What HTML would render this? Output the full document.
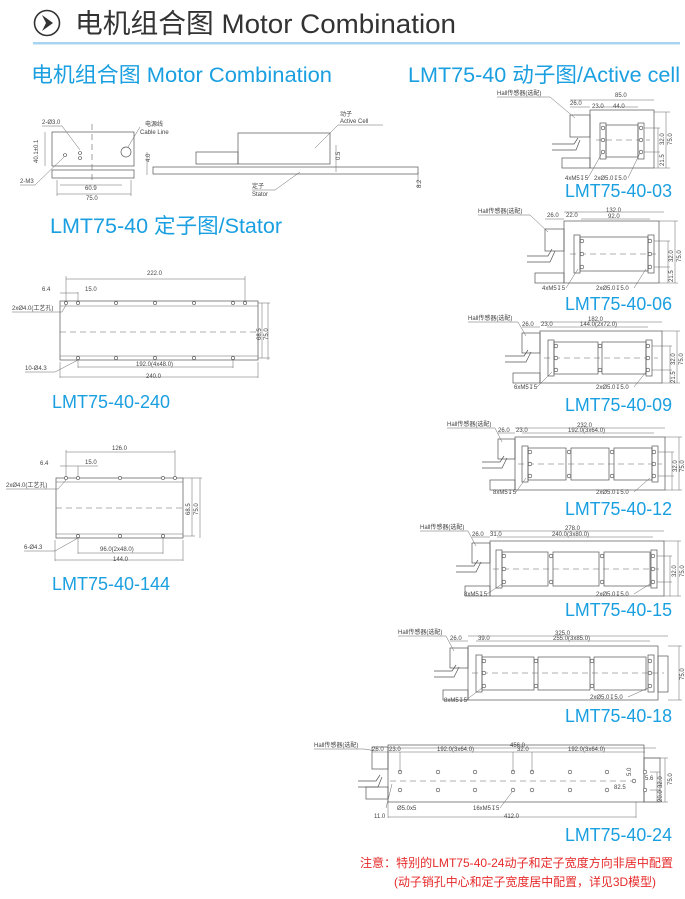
<!DOCTYPE html>
<html><head><meta charset="utf-8"><style>
html,body{margin:0;padding:0;background:#fff;width:685px;height:899px;overflow:hidden}
svg{display:block}
.t{font-family:"Liberation Sans","Noto Sans CJK SC",sans-serif}
.b{fill:#1a9fe0;font-family:"Liberation Sans","Noto Sans CJK SC",sans-serif}
.d{font-family:"Liberation Sans","Noto Sans CJK SC",sans-serif;font-size:6px;fill:#444}
.l{stroke:#555;stroke-width:.7;fill:none}
.f{stroke:#666;stroke-width:.5;fill:none}
.c{stroke:#666;stroke-width:.6;stroke-dasharray:6 4;fill:none}
.h{stroke:#444;stroke-width:.6;fill:#fff}
</style></head><body>
<svg width="685" height="899" viewBox="0 0 685 899" xmlns="http://www.w3.org/2000/svg">
<circle cx="47" cy="23" r="12.5" fill="none" stroke="#333" stroke-width="1.6"/>
<path d="M42 15 L53 23 L42 31 L46 23 Z" fill="#333"/>
<text x="75" y="33" class="t" font-size="27" fill="#333" textLength="381" lengthAdjust="spacingAndGlyphs">电机组合图 Motor Combination</text>
<rect x="33" y="42" width="647" height="2.5" fill="#a9d4f1"/>

<text x="31" y="82" class="b" font-size="21" textLength="301" lengthAdjust="spacingAndGlyphs">电机组合图 Motor Combination</text>
<text x="408" y="82" class="b" font-size="21" textLength="272" lengthAdjust="spacingAndGlyphs">LMT75-40 动子图/Active cell</text>
<text x="50" y="233" class="b" font-size="21" textLength="232" lengthAdjust="spacingAndGlyphs">LMT75-40 定子图/Stator</text>
<text x="52" y="408" class="b" font-size="18" textLength="118" lengthAdjust="spacingAndGlyphs">LMT75-40-240</text>
<text x="52" y="590" class="b" font-size="18" textLength="118" lengthAdjust="spacingAndGlyphs">LMT75-40-144</text>

<rect x="52" y="132" width="82" height="34" class="l"/>
<rect x="52" y="170" width="82" height="8" class="l"/>
<path class="c" d="M92 124 V180"/>
<circle cx="80" cy="153" r="1.5" class="h"/><circle cx="80" cy="158" r="1.5" class="h"/><circle cx="65" cy="155" r="1.5" class="h"/>
<circle cx="126" cy="152" r="5" class="l"/>
<path class="f" d="M45 132 V166 M57 180 V196 M131 180 V196 M57 194 H131 M60 185 H122"/>
<text x="38" y="163" class="d" transform="rotate(-90 38 163)">40.1±0.1</text>
<text x="42" y="124" class="d">2-Ø3.0</text><path class="f" d="M42 126 H62 L80 150"/>
<text x="20" y="183" class="d">2-M3</text><path class="f" d="M20 185 H35 L64 157"/>
<text x="145" y="126" class="d">电源线</text><text x="140" y="134" class="d">Cable Line</text>
<path class="f" d="M140 127 L128 147"/>
<text x="85" y="190" class="d">60.9</text><text x="86" y="200" class="d">75.0</text>
<rect x="196" y="152" width="42" height="12" class="l"/>
<rect x="238" y="133" width="92" height="31" class="l"/>
<rect x="153" y="167" width="265" height="7" class="l"/>
<path class="f" d="M147 152 V175 M336 145 V172 M418 172 V188"/>
<text x="150" y="162" class="d" transform="rotate(-90 150 162)">4.0</text>
<text x="340" y="160" class="d" transform="rotate(-90 340 160)">0.5</text>
<text x="421" y="188" class="d" transform="rotate(-90 421 188)">8.2</text>
<text x="340" y="116" class="d">动子</text><text x="340" y="123" class="d">Active Cell</text>
<path class="f" d="M338 125 H383 M338 125 L315 148"/>
<text x="252" y="188" class="d">定子</text><text x="252" y="196" class="d">Stator</text>
<path class="f" d="M252 190 H275 L300 172"/>

<rect x="60" y="301" width="198" height="59" class="l"/>
<path class="f" d="M60 306 H258 M60 356 H258"/>
<path class="c" d="M60 332 H258"/>
<g class="h"><circle cx="66" cy="303" r="1.6"/><circle cx="78" cy="303" r="1.6"/><circle cx="116" cy="303" r="1.6"/><circle cx="155" cy="303" r="1.6"/><circle cx="194" cy="303" r="1.6"/><circle cx="233" cy="303" r="1.6"/><circle cx="245" cy="303" r="1.6"/>
<circle cx="78" cy="358" r="1.6"/><circle cx="116" cy="358" r="1.6"/><circle cx="155" cy="358" r="1.6"/><circle cx="194" cy="358" r="1.6"/><circle cx="233" cy="358" r="1.6"/></g>
<path class="f" d="M66 279 H245 M66 276 V301 M245 276 V301 M60 293 H78 M78 292 V301 M78 367 H233 M78 360 V368 M233 360 V368 M60 377 H258 M60 362 V378 M258 362 V378 M258 303 H270 M258 358 H270 M262 303 V358 M268 303 V360"/>
<text x="147" y="275" class="d">222.0</text><text x="85" y="291" class="d">15.0</text><text x="42" y="291" class="d">6.4</text>
<text x="12" y="310" class="d">2xØ4.0(工艺孔)</text><path class="f" d="M12 312 H62 L66 305"/>
<text x="25" y="370" class="d">10-Ø4.3</text><path class="f" d="M25 372 H55 L78 360"/>
<text x="136" y="366" class="d">192.0(4x48.0)</text><text x="146" y="378" class="d">240.0</text>
<text x="261" y="340" class="d" transform="rotate(-90 261 340)">68.5</text>
<text x="268" y="340" class="d" transform="rotate(-90 268 340)">75.0</text>

<rect x="56" y="478" width="127" height="60" class="l"/>
<path class="f" d="M56 482 H183 M56 534 H183"/>
<path class="c" d="M56 508 H183"/>
<g class="h"><circle cx="66" cy="478" r="1.6"/><circle cx="78" cy="478" r="1.6"/><circle cx="120" cy="478" r="1.6"/><circle cx="163" cy="478" r="1.6"/><circle cx="175" cy="478" r="1.6"/>
<circle cx="78" cy="536" r="1.6"/><circle cx="120" cy="536" r="1.6"/><circle cx="163" cy="536" r="1.6"/></g>
<path class="f" d="M66 452 H175 M66 450 V476 M175 450 V476 M60 466 H98 M78 466 V476 M78 553 H163 M78 538 V554 M163 538 V554 M55 560 H183 M55 540 V561 M183 540 V561 M183 478 H202 M183 536 H195 M192 478 V536 M200 478 V538"/>
<text x="112" y="450" class="d">126.0</text><text x="85" y="464" class="d">15.0</text><text x="40" y="465" class="d">6.4</text>
<text x="6" y="487" class="d">2xØ4.0(工艺孔)</text><path class="f" d="M6 489 H58 L66 480"/>
<text x="24" y="549" class="d">6-Ø4.3</text><path class="f" d="M24 551 H55 L78 538"/>
<text x="100" y="551" class="d">96.0(2x48.0)</text><text x="113" y="561" class="d">144.0</text>
<text x="190" y="515" class="d" transform="rotate(-90 190 515)">68.5</text>
<text x="198" y="515" class="d" transform="rotate(-90 198 515)">75.0</text>

<g>
<rect x="590" y="110" width="64" height="58" class="l"/>
<rect x="570" y="115" width="20" height="22" class="l"/>
<path class="l" d="M552 144 H574 L578 138 M552 150 H576 L580 140"/>
<rect x="562" y="158" width="28" height="10" class="l"/>
<rect x="600" y="123" width="6" height="36" class="l"/><rect x="638" y="123" width="6" height="36" class="l"/>
<rect x="606" y="125" width="32" height="32" class="l"/>
<path class="c" d="M596 140 H650"/>
<g class="h"><circle cx="603" cy="128" r="1.8"/><circle cx="603" cy="140" r="1.8"/><circle cx="603" cy="152" r="1.8"/><circle cx="641" cy="128" r="1.8"/><circle cx="641" cy="140" r="1.8"/><circle cx="641" cy="152" r="1.8"/></g>
<path class="f" d="M570 100 H654 M570 107 H590 M598 107 H638 M654 112 H670 M654 168 H670 M666 112 V168 M644 128 H660 M644 152 H660 M658 128 V168"/>
<text x="615" y="97" class="d">85.0</text><text x="570" y="105" class="d">26.0</text><text x="592" y="108" class="d">23.0</text><text x="613" y="108" class="d">44.0</text>
<text x="497" y="95" class="d">Hall传感器(选配)</text><path class="f" d="M497 97 H550 L575 118"/>
<text x="565" y="180" class="d">4xM5↧5</text><text x="594" y="180" class="d">2xØ5.0↧5.0</text>
<path class="f" d="M588 178 L602 153 M628 178 L640 153"/>
<text x="664" y="145" class="d" transform="rotate(-90 664 145)">32.0</text><text x="672" y="145" class="d" transform="rotate(-90 672 145)">75.0</text><text x="664" y="166" class="d" transform="rotate(-90 664 166)">21.5</text>
<text x="565" y="197" class="b" font-size="18" textLength="107" lengthAdjust="spacingAndGlyphs">LMT75-40-03</text>
</g>

<g>
<rect x="564" y="221" width="95" height="62" class="l"/>
<rect x="545" y="229" width="19" height="22" class="l"/>
<path class="l" d="M527 256 H548 L552 249 M527 262 H550 L555 251"/>
<rect x="535" y="273" width="29" height="10" class="l"/>
<rect x="574" y="235" width="6" height="38" class="l"/><rect x="648" y="235" width="6" height="38" class="l"/>
<rect x="580" y="237" width="68" height="34" class="l"/>
<path class="c" d="M570 254 H656"/>
<g class="h"><circle cx="582" cy="241" r="1.8"/><circle cx="582" cy="254" r="1.8"/><circle cx="582" cy="267" r="1.8"/><circle cx="650" cy="241" r="1.8"/><circle cx="650" cy="254" r="1.8"/><circle cx="650" cy="267" r="1.8"/></g>
<path class="f" d="M564 212 H664 M545 219 H564 M581 219 H650 M659 221 H678 M659 283 H678 M675 221 V283 M654 241 H670 M654 267 H670 M668 241 V283"/>
<text x="606" y="212" class="d">132.0</text><text x="547" y="217" class="d">26.0</text><text x="566" y="217" class="d">22.0</text><text x="608" y="218" class="d">92.0</text>
<text x="478" y="213" class="d">Hall传感器(选配)</text><path class="f" d="M478 215 H530 L548 232"/>
<text x="542" y="290" class="d">4xM5↧5</text><text x="596" y="290" class="d">2xØ5.0↧5.0</text>
<path class="f" d="M566 288 L578 269 M634 288 L646 269"/>
<text x="673" y="262" class="d" transform="rotate(-90 673 262)">32.0</text><text x="681" y="262" class="d" transform="rotate(-90 681 262)">75.0</text><text x="673" y="282" class="d" transform="rotate(-90 673 282)">21.5</text>
<text x="565" y="310" class="b" font-size="18" textLength="107" lengthAdjust="spacingAndGlyphs">LMT75-40-06</text>
</g>

<g>
<rect x="540" y="331" width="122" height="52" class="l"/>
<rect x="522" y="333" width="18" height="20" class="l"/>
<path class="l" d="M505 356 H524 L528 350 M505 362 H526 L531 352"/>
<rect x="513" y="373" width="27" height="10" class="l"/>
<rect x="548" y="340" width="6" height="36" class="l"/><rect x="646" y="340" width="6" height="36" class="l"/>
<rect x="554" y="342" width="44" height="32" class="l"/><rect x="602" y="342" width="44" height="32" class="l"/>
<path class="c" d="M544 358 H658"/>
<g class="h"><circle cx="556" cy="346" r="1.8"/><circle cx="556" cy="358" r="1.8"/><circle cx="556" cy="370" r="1.8"/><circle cx="600" cy="346" r="1.8"/><circle cx="600" cy="370" r="1.8"/><circle cx="648" cy="346" r="1.8"/><circle cx="648" cy="358" r="1.8"/><circle cx="648" cy="370" r="1.8"/></g>
<path class="f" d="M540 322 H662 M522 327 H540 M547 327 H648 M662 331 H680 M662 383 H680 M677 331 V383 M652 346 H672 M652 370 H672 M670 346 V383"/>
<text x="588" y="321" class="d">182.0</text><text x="522" y="326" class="d">26.0</text><text x="541" y="326" class="d">23.0</text><text x="580" y="326" class="d">144.0(2x72.0)</text>
<text x="468" y="320" class="d">Hall传感器(选配)</text><path class="f" d="M468 322 H518 L526 336"/>
<text x="514" y="389" class="d">6xM5↧5</text><text x="596" y="389" class="d">2xØ5.0↧5.0</text>
<path class="f" d="M537 387 L552 372 M634 387 L646 372"/>
<text x="675" y="365" class="d" transform="rotate(-90 675 365)">32.0</text><text x="683" y="365" class="d" transform="rotate(-90 683 365)">75.0</text><text x="675" y="383" class="d" transform="rotate(-90 675 383)">21.5</text>
<text x="565" y="411" class="b" font-size="18" textLength="107" lengthAdjust="spacingAndGlyphs">LMT75-40-09</text>
</g>

<g>
<rect x="515" y="437" width="150" height="53" class="l"/>
<rect x="498" y="439" width="17" height="20" class="l"/>
<path class="l" d="M482 462 H500 L504 456 M482 468 H502 L507 458"/>
<rect x="490" y="480" width="25" height="10" class="l"/>
<rect x="522" y="446" width="6" height="36" class="l"/><rect x="652" y="446" width="6" height="36" class="l"/>
<rect x="528" y="448" width="38" height="32" class="l"/><rect x="571" y="448" width="38" height="32" class="l"/><rect x="614" y="448" width="38" height="32" class="l"/>
<path class="c" d="M518 464 H662"/>
<g class="h"><circle cx="530" cy="452" r="1.8"/><circle cx="530" cy="464" r="1.8"/><circle cx="530" cy="476" r="1.8"/><circle cx="569" cy="452" r="1.8"/><circle cx="569" cy="476" r="1.8"/><circle cx="612" cy="452" r="1.8"/><circle cx="612" cy="476" r="1.8"/><circle cx="654" cy="452" r="1.8"/><circle cx="654" cy="464" r="1.8"/><circle cx="654" cy="476" r="1.8"/></g>
<path class="f" d="M515 428 H665 M498 433 H515 M522 433 H654 M665 437 H682 M665 490 H682 M679 437 V490 M658 452 H674 M658 476 H674 M672 452 V490"/>
<text x="577" y="427" class="d">232.0</text><text x="498" y="432" class="d">26.0</text><text x="516" y="432" class="d">23.0</text><text x="568" y="432" class="d">192.0(3x64.0)</text>
<text x="447" y="426" class="d">Hall传感器(选配)</text><path class="f" d="M447 428 H495 L502 442"/>
<text x="493" y="494" class="d">8xM5↧5</text><text x="596" y="494" class="d">2xØ5.0↧5.0</text>
<path class="f" d="M516 492 L526 478 M634 492 L650 478"/>
<text x="677" y="472" class="d" transform="rotate(-90 677 472)">32.0</text><text x="684" y="472" class="d" transform="rotate(-90 684 472)">75.0</text>
<text x="565" y="515" class="b" font-size="18" textLength="107" lengthAdjust="spacingAndGlyphs">LMT75-40-12</text>
</g>

<g>
<rect x="490" y="541" width="174" height="55" class="l"/>
<rect x="472" y="543" width="18" height="20" class="l"/>
<path class="l" d="M456 566 H474 L478 560 M456 572 H476 L481 562"/>
<rect x="465" y="586" width="25" height="10" class="l"/>
<rect x="496" y="550" width="6" height="38" class="l"/><rect x="651" y="550" width="6" height="38" class="l"/>
<rect x="502" y="552" width="46" height="34" class="l"/><rect x="553" y="552" width="46" height="34" class="l"/><rect x="604" y="552" width="46" height="34" class="l"/>
<path class="c" d="M493 569 H662"/>
<g class="h"><circle cx="504" cy="556" r="1.8"/><circle cx="504" cy="569" r="1.8"/><circle cx="504" cy="582" r="1.8"/><circle cx="551" cy="556" r="1.8"/><circle cx="551" cy="582" r="1.8"/><circle cx="602" cy="556" r="1.8"/><circle cx="602" cy="582" r="1.8"/><circle cx="653" cy="556" r="1.8"/><circle cx="653" cy="569" r="1.8"/><circle cx="653" cy="582" r="1.8"/></g>
<path class="f" d="M490 531 H664 M472 537 H490 M497 537 H653 M664 541 H681 M664 596 H681 M678 541 V596 M657 556 H672 M657 582 H672 M670 556 V596"/>
<text x="565" y="530" class="d">278.0</text><text x="472" y="536" class="d">26.0</text><text x="490" y="536" class="d">31.0</text><text x="552" y="536" class="d">240.0(3x80.0)</text>
<text x="420" y="529" class="d">Hall传感器(选配)</text><path class="f" d="M420 531 H468 L476 546"/>
<text x="464" y="596" class="d">8xM5↧5</text><text x="596" y="596" class="d">2xØ5.0↧5.0</text>
<path class="f" d="M487 594 L502 584 M634 594 L650 584"/>
<text x="676" y="577" class="d" transform="rotate(-90 676 577)">32.0</text><text x="684" y="577" class="d" transform="rotate(-90 684 577)">75.0</text>
<text x="565" y="616" class="b" font-size="18" textLength="107" lengthAdjust="spacingAndGlyphs">LMT75-40-15</text>
</g>

<g>
<rect x="468" y="646" width="190" height="54" class="l"/>
<rect x="658" y="656" width="10" height="36" class="l"/>
<rect x="450" y="648" width="18" height="20" class="l"/>
<path class="l" d="M434 671 H452 L456 665 M434 677 H454 L459 667"/>
<rect x="443" y="690" width="25" height="10" class="l"/>
<rect x="476" y="655" width="6" height="37" class="l"/><rect x="648" y="655" width="6" height="37" class="l"/>
<rect x="482" y="657" width="52" height="33" class="l"/><rect x="538" y="657" width="52" height="33" class="l"/><rect x="594" y="657" width="52" height="33" class="l"/>
<path class="c" d="M472 673 H664"/>
<g class="h"><circle cx="484" cy="661" r="1.8"/><circle cx="484" cy="673" r="1.8"/><circle cx="484" cy="686" r="1.8"/><circle cx="536" cy="661" r="1.8"/><circle cx="536" cy="686" r="1.8"/><circle cx="592" cy="661" r="1.8"/><circle cx="592" cy="686" r="1.8"/><circle cx="650" cy="661" r="1.8"/><circle cx="650" cy="673" r="1.8"/><circle cx="650" cy="686" r="1.8"/></g>
<path class="f" d="M468 636 H668 M450 641 H468 M476 641 H650 M668 646 H682 M668 700 H682 M679 646 V700"/>
<text x="555" y="635" class="d">325.0</text><text x="450" y="640" class="d">26.0</text><text x="478" y="640" class="d">39.0</text><text x="553" y="640" class="d">255.0(3x85.0)</text>
<text x="398" y="634" class="d">Hall传感器(选配)</text><path class="f" d="M398 636 H446 L454 651"/>
<text x="444" y="702" class="d">8xM5↧5</text><text x="590" y="699" class="d">2xØ5.0↧5.0</text>
<path class="f" d="M466 700 L482 688 M628 697 L648 688"/>
<text x="684" y="680" class="d" transform="rotate(-90 684 680)">75.0</text>
<text x="565" y="722" class="b" font-size="18" textLength="107" lengthAdjust="spacingAndGlyphs">LMT75-40-18</text>
</g>

<g>
<rect x="388" y="745" width="256" height="57" class="l"/>
<rect x="644" y="758" width="16" height="44" class="l"/>
<rect x="372" y="747" width="16" height="22" class="l"/>
<path class="l" d="M358 781 H376 L380 775 M358 787 H378 L382 777"/>
<rect x="366" y="787" width="22" height="12" class="l"/>
<path class="c" d="M390 781 H636"/>
<g class="h"><circle cx="400" cy="772" r="1.8"/><circle cx="438" cy="772" r="1.8"/><circle cx="475" cy="772" r="1.8"/><circle cx="513" cy="772" r="1.8"/><circle cx="532" cy="772" r="1.8"/><circle cx="570" cy="772" r="1.8"/><circle cx="607" cy="772" r="1.8"/><circle cx="645" cy="772" r="1.8"/>
<circle cx="400" cy="790" r="1.8"/><circle cx="438" cy="790" r="1.8"/><circle cx="475" cy="790" r="1.8"/><circle cx="513" cy="790" r="1.8"/><circle cx="532" cy="790" r="1.8"/><circle cx="570" cy="790" r="1.8"/><circle cx="607" cy="790" r="1.8"/><circle cx="645" cy="790" r="1.8"/><circle cx="634" cy="781" r="1.8"/></g>
<path class="f" d="M388 748 H656 M372 752 H388 M388 752 H645 M400 752 V772 M513 752 V772 M532 752 V772 M644 758 H668 M644 802 H668 M665 758 V802 M650 772 H660 M650 790 H660 M657 772 V802 M388 817 H636 M388 802 V818 M636 802 V818 M386 808 L392 784"/>
<text x="510" y="747" class="d">456.0</text><text x="372" y="751" class="d">26.0</text><text x="389" y="751" class="d">23.0</text><text x="437" y="751" class="d">192.0(3x64.0)</text><text x="517" y="751" class="d">32.0</text><text x="568" y="751" class="d">192.0(3x64.0)</text>
<text x="314" y="747" class="d">Hall传感器(选配)</text><path class="f" d="M314 749 H364 L376 751"/>
<text x="397" y="810" class="d">Ø5.0x5</text><text x="473" y="810" class="d">16xM5↧5</text><path class="f" d="M500 808 L512 792"/>
<text x="504" y="818" class="d">412.0</text><text x="374" y="818" class="d">11.0</text>
<text x="614" y="789" class="d">82.5</text><text x="645" y="780" class="d">5.6</text>
<text x="631" y="776" class="d" transform="rotate(-90 631 776)">5.0</text>
<text x="662" y="788" class="d" transform="rotate(-90 662 788)">32.0</text><text x="662" y="802" class="d" transform="rotate(-90 662 802)">20.0</text><text x="672" y="785" class="d" transform="rotate(-90 672 785)">75.0</text>
<text x="565" y="841" class="b" font-size="18" textLength="107" lengthAdjust="spacingAndGlyphs">LMT75-40-24</text>
</g>

<text x="360" y="867" class="t" font-size="12" fill="#e62a2a" textLength="313" lengthAdjust="spacingAndGlyphs">注意：特别的LMT75-40-24动子和定子宽度方向非居中配置</text>
<text x="394" y="886" class="t" font-size="12" fill="#e62a2a" textLength="262" lengthAdjust="spacingAndGlyphs">(动子销孔中心和定子宽度居中配置，详见3D模型)</text>
</svg>
</body></html>
